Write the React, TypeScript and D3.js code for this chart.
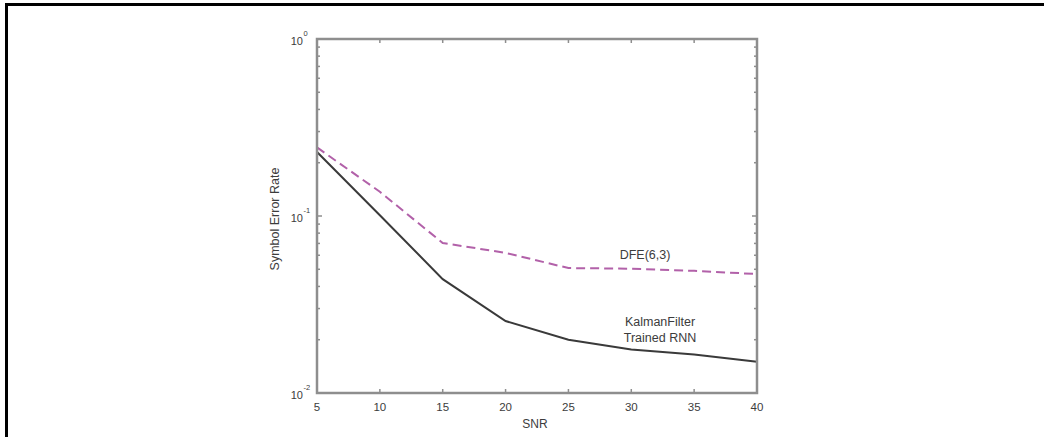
import React from "react";
import * as d3 from "d3";

const snr = [5, 10, 15, 20, 25, 30, 35, 40];
const kalmanRnn = [0.23, 0.101, 0.044, 0.0255, 0.02, 0.0176, 0.0165, 0.015];
const dfe = [0.244, 0.137, 0.0704, 0.0619, 0.0508, 0.0504, 0.049, 0.047];
const xTicks = [5, 10, 15, 20, 25, 30, 35, 40];
const yMajor = [{ v: 1, e: "0" }, { v: 0.1, e: "-1" }, { v: 0.01, e: "-2" }];
const xLabel = "SNR";
const yLabel = "Symbol Error Rate";
const dfeLabel = "DFE(6,3)";
const kfLabel = ["KalmanFilter", "Trained RNN"];

const W = 1044, H = 437;
const L = 317, R = 757, T = 39, B = 393;
const axisColor = "#8e8e8e";
const textColor = "#3c3c3c";
const font = "'Liberation Sans', Arial, sans-serif";

export default function App() {
  const x = d3.scaleLinear().domain([5, 40]).range([L, R]);
  const y = d3.scaleLog().domain([0.01, 1]).range([B, T]);
  const line = d3.line<[number, number]>().x(d => x(d[0])).y(d => y(d[1]));
  const kData = snr.map((s, i) => [s, kalmanRnn[i]] as [number, number]);
  const dData = snr.map((s, i) => [s, dfe[i]] as [number, number]);

  const minor: number[] = [];
  [0.01, 0.1].forEach(dec => {
    for (let k = 2; k <= 9; k++) minor.push(dec * k);
  });

  return (
    <svg width={W} height={H} style={{ position: "fixed", left: 0, top: 0, background: "#fff" }}>
      <rect x={0} y={0} width={W} height={H} fill="#fff" />
      {/* outer frame */}
      <path d={`M6.5,${H} L6.5,4.5 L${W},4.5`} fill="none" stroke="#000" strokeWidth={3} />

      {/* lines */}
      <path d={line(dData) || ""} fill="none" stroke="#b261a9" strokeWidth={2} strokeDasharray="9,5" />
      <path d={line(kData) || ""} fill="none" stroke="#3a3a3a" strokeWidth={2} />

      {/* axes box */}
      <rect x={L} y={T} width={R - L} height={B - T} fill="none" stroke={axisColor} strokeWidth={2.5} />

      {/* x ticks */}
      {xTicks.map(t => (
        <g key={"xt" + t}>
          <line x1={x(t)} x2={x(t)} y1={B} y2={B - 4} stroke={axisColor} strokeWidth={1.5} />
          <line x1={x(t)} x2={x(t)} y1={T} y2={T + 4} stroke={axisColor} strokeWidth={1.5} />
          <text x={x(t)} y={411} textAnchor="middle" fontSize={11.5} fontFamily={font} fill={textColor}>{t}</text>
        </g>
      ))}

      {/* y ticks */}
      {yMajor.map(m => (
        <g key={"ym" + m.e}>
          <line x1={L} x2={L + 5} y1={y(m.v)} y2={y(m.v)} stroke={axisColor} strokeWidth={1.5} />
          <line x1={R} x2={R - 5} y1={y(m.v)} y2={y(m.v)} stroke={axisColor} strokeWidth={1.5} />
          <text x={303} y={y(m.v) + 6} textAnchor="end" fontSize={11} fontFamily={font} fill={textColor}>10</text>
          <text x={303.5} y={y(m.v) - 3} textAnchor="start" fontSize={7.5} fontFamily={font} fill={textColor}>{m.e}</text>
        </g>
      ))}
      {minor.map((v, i) => (
        <g key={"mn" + i}>
          <line x1={L} x2={L + 3} y1={y(v)} y2={y(v)} stroke={axisColor} strokeWidth={1.5} />
          <line x1={R} x2={R - 3} y1={y(v)} y2={y(v)} stroke={axisColor} strokeWidth={1.5} />
        </g>
      ))}

      {/* axis labels */}
      <text x={535} y={428} textAnchor="middle" fontSize={12} fontFamily={font} fill={textColor}>{xLabel}</text>
      <text transform={`translate(279,219) rotate(-90)`} textAnchor="middle" fontSize={12.5} fontFamily={font} fill={textColor}>{yLabel}</text>

      {/* annotations */}
      <text x={645} y={259} textAnchor="middle" fontSize={12.5} fontFamily={font} fill={textColor}>{dfeLabel}</text>
      <text x={660} y={326} textAnchor="middle" fontSize={12.5} fontFamily={font} fill={textColor}>{kfLabel[0]}</text>
      <text x={660} y={342} textAnchor="middle" fontSize={12.5} fontFamily={font} fill={textColor}>{kfLabel[1]}</text>
    </svg>
  );
}
